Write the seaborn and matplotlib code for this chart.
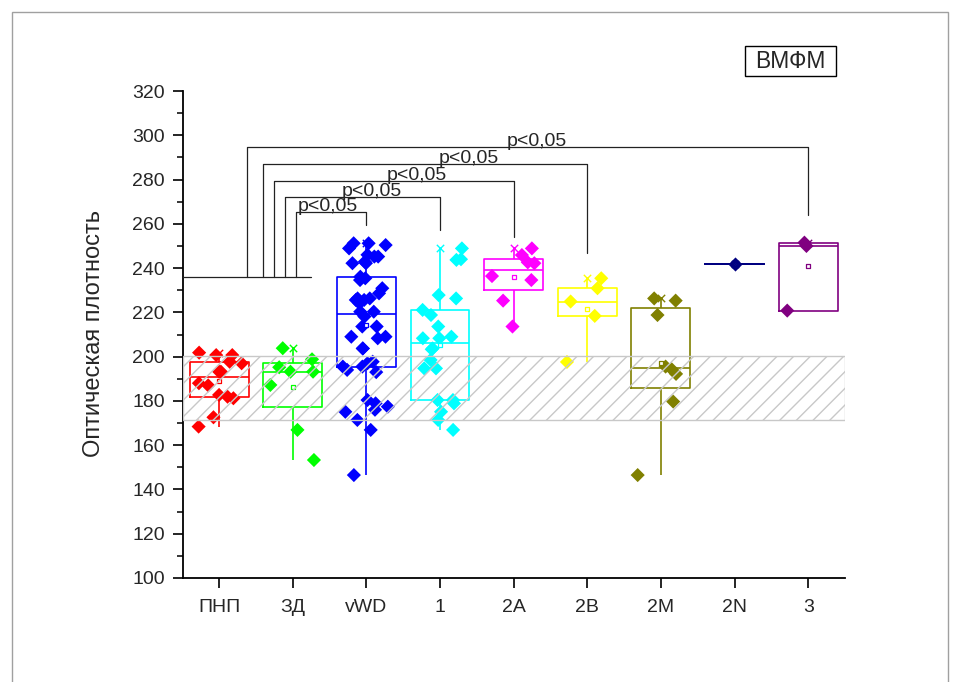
import numpy as np
import pandas as pd
import matplotlib
matplotlib.use("Agg")
import matplotlib.pyplot as plt
from matplotlib.patches import Rectangle
from matplotlib.ticker import MultipleLocator
import seaborn as sns

# ---- data -------------------------------------------------------------
groups = ["ПНП", "ЗД", "vWD", "1", "2A", "2B", "2M", "2N", "3"]
colors = ["#FF0000", "#00FF00", "#0000FF", "#00FFFF", "#FF00FF",
          "#FFFF00", "#808000", "#000080", "#800080"]

pnp = [201.8, 200.7, 200.7, 197.7, 197.0, 193.2, 193.2, 188.0, 187.0,
       182.7, 181.9, 181.2, 172.6, 168.4]
zd = [203.8, 198.8, 195.2, 193.2, 193.2, 187.2, 166.9, 153.3]
vwd = [251.2, 251.2, 250.4, 248.9, 246.0, 245.2, 245.2, 242.9, 242.2, 242.2,
       236.1, 235.4, 234.6, 230.9, 228.6, 226.3, 226.3, 225.6, 225.6, 224.1,
       220.3, 220.3, 218.1, 213.6, 213.6, 209.0, 209.0, 208.3, 203.7, 203.7,
       197.7, 197.0, 195.5, 195.5, 194.0, 193.0, 180.4, 178.9, 177.4, 176.0,
       175.1, 171.4, 166.9, 146.5]
type1 = [248.9, 244.0, 243.7, 227.8, 226.3, 221.1, 218.8, 213.6, 209.0, 208.3,
         208.3, 203.7, 203.3, 198.5, 194.7, 194.7, 180.4, 180.4, 178.9, 175.1,
         171.4, 166.9]
type2a = [248.9, 245.9, 242.6, 242.2, 236.4, 234.6, 225.3, 213.6]
type2b = [235.4, 230.9, 224.9, 218.4, 197.6]
type2m = [226.3, 225.3, 218.8, 195.5, 194.3, 192.2, 179.7, 146.5]
type2n = [241.7]
type3 = [251.5, 250.0, 220.8]

series = [pnp, zd, vwd, type1, type2a, type2b, type2m, type2n, type3]

# reference range of healthy donors
ref_low, ref_high = 171.4, 200.5

# significance brackets: left leg x, right leg x, bar level, right leg end, label x
bracket_left = [1.04, 0.89, 0.75, 0.59, 0.38]
bracket_right = [2, 3, 4, 5, 8]
bracket_level = [265.5, 272.3, 279.5, 287.2, 294.7]
bracket_end = [259.5, 257.2, 254.0, 246.7, 264.0]
label_x = [1.47, 2.07, 2.69, 3.39, 4.32]
bracket_base = 236.0
p_label = "p<0,05"


def hinges(v):
    """Box statistics: min, lower hinge, median, upper hinge, max."""
    v = np.sort(np.asarray(v, dtype=float))
    n = len(v)
    med = np.median(v)
    if n < 4:
        q1, q3 = np.percentile(v, [25, 75], method="weibull")
    else:
        half = (n + 1) // 2
        q1 = np.median(v[:half])
        q3 = np.median(v[n - half:])
    return [v[0], q1, med, q3, v[-1]]


points = pd.DataFrame(
    [(g, val) for g, vals in zip(groups, series) for val in vals],
    columns=["group", "value"])
boxes = pd.DataFrame(
    [(g, val) for g, vals in zip(groups, series) for val in hinges(vals)],
    columns=["group", "value"])

# ---- figure -----------------------------------------------------------
sns.set_style("ticks")
plt.rcParams["font.family"] = ["Liberation Sans", "DejaVu Sans"]

fig = plt.figure(figsize=(9.6, 6.82), dpi=100)
ax = fig.add_axes([183 / 960, 104 / 682, 662 / 960, 487 / 682])

sns.boxplot(data=boxes, x="group", y="value", hue="group", order=groups,
            hue_order=groups, palette=colors, fill=False, whis=(0, 100),
            showcaps=False, showfliers=False, width=0.8, linewidth=1.2,
            legend=False, ax=ax, zorder=2)

np.random.seed(7)
sns.stripplot(data=points, x="group", y="value", hue="group", order=groups,
              hue_order=groups, palette=colors, marker="D", size=7.2,
              jitter=0.32, linewidth=0, legend=False, ax=ax, zorder=3)

# mean (small open square) and maximum (x) for each group
for i, (vals, c) in enumerate(zip(series, colors)):
    ax.scatter([i], [np.mean(vals)], marker="s", s=12, facecolor="white",
               edgecolor=c, linewidth=0.9, zorder=4)
    ax.scatter([i], [max(vals)], marker="x", s=28, color=c,
               linewidth=1.0, zorder=4)

# hatched reference band
ax.axhspan(ref_low, ref_high, facecolor="none", edgecolor="#C8C8C8",
           hatch="//", linewidth=1.0, zorder=5)

# significance brackets
line_kw = dict(color="#222222", linewidth=0.9, zorder=6, clip_on=False)
ax.plot([-0.49, 1.25], [bracket_base, bracket_base], **line_kw)
for xl, xr, lv, le, lx in zip(bracket_left, bracket_right, bracket_level,
                              bracket_end, label_x):
    ax.plot([xl, xl, xr, xr], [bracket_base, lv, lv, le], **line_kw)
    ax.text(lx, lv + 0.4, p_label, ha="center", va="baseline",
            fontsize=14, zorder=7)

# axes styling
ax.set_xlim(-0.49, 8.5)
ax.set_ylim(100, 320)
ax.yaxis.set_major_locator(MultipleLocator(20))
ax.yaxis.set_minor_locator(MultipleLocator(10))
ax.tick_params(axis="both", which="major", direction="out", length=7,
               width=1.2, labelsize=14, color="black")
ax.tick_params(axis="y", which="major", pad=6)
ax.tick_params(axis="y", which="minor", direction="out", length=4,
               width=1.1, color="black")
ax.tick_params(axis="x", pad=8)
for side in ("top", "right"):
    ax.spines[side].set_visible(False)
for side in ("left", "bottom"):
    ax.spines[side].set_linewidth(1.3)
    ax.spines[side].set_color("black")
ax.set_xlabel("")
ax.set_ylabel("Оптическая плотность", fontsize=17)
ax.yaxis.set_label_coords(-0.118, 0.503)

# group label in a framed box
fig.add_artist(Rectangle((745 / 960, 1 - 76 / 682), 91 / 960, 30 / 682,
                         transform=fig.transFigure, facecolor="white",
                         edgecolor="black", linewidth=1.0, zorder=5))
fig.text(790.5 / 960, 1 - 61 / 682, "ВМФМ", ha="center", va="center",
         fontsize=16.5, zorder=6)

# light frame around the page
fig.add_artist(Rectangle((12 / 960, -0.05), 936 / 960, 1.0324,
                         transform=fig.transFigure, facecolor="none",
                         edgecolor="#A0A0A0", linewidth=1.0))

fig.savefig("out.png", dpi=100)
